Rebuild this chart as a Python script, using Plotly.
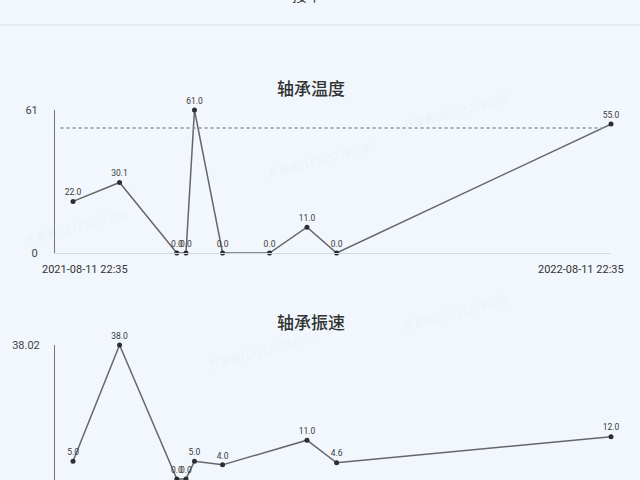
import plotly.graph_objects as go
from plotly.subplots import make_subplots
from datetime import datetime

# sample times (shared by both series)
times = [
    "2021-08-11 22:35", "2021-09-12 12:00", "2021-10-21 09:00", "2021-10-27 14:00",
    "2021-11-02 08:00", "2021-11-21 10:00", "2021-12-23 06:00", "2022-01-17 16:00",
    "2022-02-06 18:00", "2022-08-11 22:35",
]
temp_values = [22.0, 30.1, 0.0, 0.0, 61.0, 0.0, 0.0, 11.0, 0.0, 55.0]
vib_values = [5.0, 38.0, 0.0, 0.0, 5.0, 4.0, None, 11.0, 4.6, 12.0]
temp_max = 61
vib_max = 38.02
temp_limit = 53.3
titles = ["轴承温度", "轴承振速"]
header_text = "接单"

x_start = "2021-07-30 17:00"
x_end = times[-1]

bg = "#f1f7fd"
cjk = "Noto Sans CJK SC"

fig = make_subplots(rows=2, cols=1, vertical_spacing=0.0)


def label(v):
    return "" if v is None else f"{v:.1f}"


for row, vals in [(1, temp_values), (2, vib_values)]:
    fig.add_trace(go.Scatter(
        x=times, y=vals, mode="lines+markers+text",
        text=[label(v) for v in vals], textposition="top center",
        textfont=dict(size=8.5, color="#3a3a3a", family="Roboto"),
        line=dict(color="#666", width=1.5),
        marker=dict(color="#2e2e2e", size=5),
        connectgaps=True, cliponaxis=False, showlegend=False,
    ), row=row, col=1)

xaxis_style = dict(
    type="date", range=[x_start, x_end], showgrid=False, zeroline=False,
    showticklabels=False, showline=True, linecolor="#cfdde3", linewidth=1,
    domain=[55 / 640, 611 / 640], automargin=False,
)
yaxis_common = dict(showgrid=False, zeroline=False, showline=True, linecolor="#777",
                    automargin=False, tickfont=dict(size=11, color="#444", family="Roboto"))
fig.update_layout(
    xaxis=xaxis_style,
    xaxis2=xaxis_style,
    yaxis=dict(domain=[1 - 253 / 480, 1 - 110 / 480], range=[0, temp_max],
               tickvals=[0, temp_max], ticktext=["0", str(temp_max)],
               ticklabelstandoff=14, **yaxis_common),
    yaxis2=dict(domain=[0, 1 - 345 / 480], range=[-0.3, vib_max],
                tickvals=[0, vib_max], ticktext=["0", f"{vib_max:.2f}"],
                ticklabelstandoff=12, **yaxis_common),
    width=640, height=480,
    margin=dict(l=0, r=0, t=0, b=0, pad=0),
    paper_bgcolor=bg, plot_bgcolor=bg,
    font=dict(family=cjk),
)

# threshold dotted line on the temperature chart
fig.add_shape(type="line", xref="x domain", yref="y", x0=0.01, x1=0.99,
              y0=temp_limit, y1=temp_limit,
              line=dict(color="#8a9a90", width=1.5, dash="dot"))

# header strip
fig.add_shape(type="line", xref="paper", yref="paper", x0=0, x1=1,
              y0=1 - 25 / 480, y1=1 - 25 / 480, line=dict(color="#e2e8f0", width=1.5))
fig.add_annotation(text=header_text, xref="paper", yref="paper", x=307 / 640, y=1,
                   yanchor="middle", yshift=6, showarrow=False,
                   font=dict(size=15, color="#333", family=cjk))

# chart titles
for yref, txt in [(1 - 87 / 480, titles[0]), (1 - 321 / 480, titles[1])]:
    fig.add_annotation(text=txt, xref="paper", yref="paper", x=311 / 640, y=yref,
                       yanchor="middle", showarrow=False,
                       font=dict(size=17, color="#333", family=cjk, weight=500))

# first / last time labels under the temperature chart
first_lbl = datetime.strptime(times[0], "%Y-%m-%d %H:%M").strftime("%Y-%m-%d %H:%M")
last_lbl = datetime.strptime(times[-1], "%Y-%m-%d %H:%M").strftime("%Y-%m-%d %H:%M")
fig.add_annotation(text=first_lbl, xref="x domain", yref="paper", x=0, y=1 - 269 / 480,
                   xanchor="left", yanchor="middle", xshift=-15, showarrow=False,
                   font=dict(size=11, color="#333", family="Roboto"))
fig.add_annotation(text=last_lbl, xref="x domain", yref="paper", x=1, y=1 - 269 / 480,
                   xanchor="right", yanchor="middle", xshift=15, showarrow=False,
                   font=dict(size=11, color="#333", family="Roboto"))

# faint watermarks
for wx, wy in [(0.5, 0.72), (0.03, 0.53), (0.8, 0.82), (0.32, 0.22), (0.8, 0.3)]:
    fig.add_annotation(text="开发者(18121228109)", xref="paper", yref="paper", x=wx, y=wy,
                       textangle=-15, showarrow=False,
                       font=dict(size=11, color="rgba(120,130,150,0.07)", family=cjk))

fig.write_html("out.html", config={"displayModeBar": False},
               post_script="document.body.style.margin='0';"
                           "document.body.style.background='%s';" % bg)
